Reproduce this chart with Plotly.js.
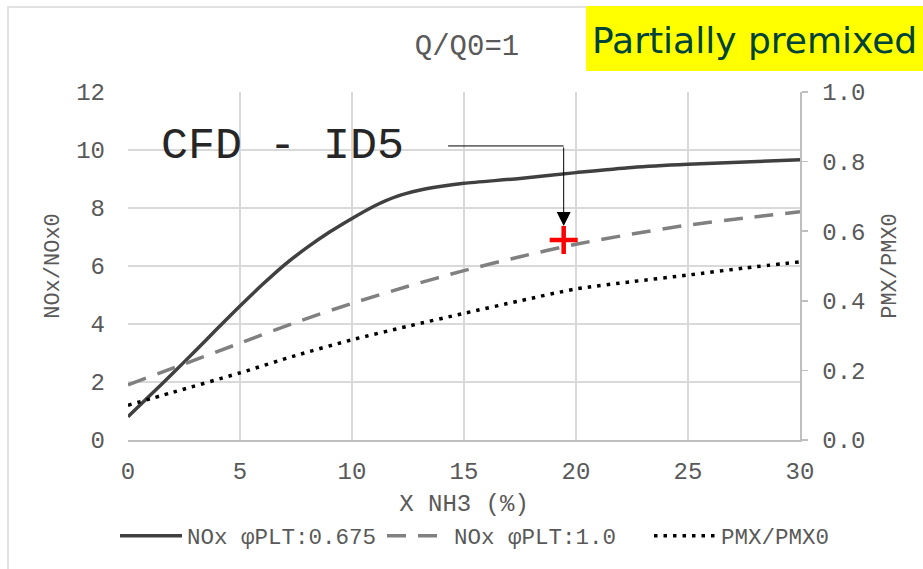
<!DOCTYPE html>
<html>
<head>
<meta charset="utf-8">
<script src="https://cdn.plot.ly/plotly-3.0.1.min.js"></script>
<style>html,body{margin:0;padding:0;background:#fff;}#chart{width:923px;height:569px;}</style>
</head>
<body>
<div id="chart"></div>
<script>
// Data
const xSolid = [0, 1, 2, 3, 4, 5, 6, 7, 8, 9, 10, 11, 12, 13, 14, 15, 17.5, 20, 22.5, 25, 30];
const noxPhi0675 = [0.8, 1.55, 2.3, 3.07, 3.85, 4.62, 5.36, 6.05, 6.64, 7.17, 7.64, 8.07, 8.4, 8.61, 8.75, 8.85, 9.02, 9.22, 9.4, 9.51, 9.66];
const xDashed = [0, 2.5, 5, 7.5, 10, 12.5, 15, 17.5, 20, 22.5, 25, 27.5, 30];
const noxPhi10 = [1.9, 2.62, 3.34, 4.06, 4.71, 5.3, 5.84, 6.32, 6.75, 7.1, 7.41, 7.65, 7.87];
const xDotted = [0, 2, 5, 7.5, 10, 12.5, 15, 17.5, 20, 22.5, 25, 27.5, 30];
const pmxRatio = [0.10, 0.137, 0.193, 0.243, 0.288, 0.327, 0.364, 0.40, 0.434, 0.455, 0.474, 0.494, 0.512];
const cfdX = [19.45];
const cfdY = [6.9];
const seriesNames = ['NOx \u03c6PLT:0.675', 'NOx \u03c6PLT:1.0', 'PMX/PMX0'];

const mono = 'Liberation Mono, Courier New, monospace';
const txt = '#595959';
const grid = '#d9d9d9';

const traces = [
  {x: xSolid, y: noxPhi0675, name: seriesNames[0], type: 'scatter', mode: 'lines', line: {color: '#404040', width: 3.5, shape: 'spline', smoothing: 0.8}},
  {x: xDashed, y: noxPhi10, name: seriesNames[1], type: 'scatter', mode: 'lines', line: {color: '#808080', width: 3.5, dash: '19px,12px', shape: 'spline', smoothing: 0.8}},
  {x: xDotted, y: pmxRatio, name: seriesNames[2], yaxis: 'y2', type: 'scatter', mode: 'lines', line: {color: '#000000', width: 3.5, dash: '3.5px,6px', shape: 'spline', smoothing: 0.8}},
  {x: cfdX, y: cfdY, type: 'scatter', mode: 'markers', showlegend: false, marker: {symbol: 'cross-thin', size: 20, line: {color: '#ff0000', width: 4.5}}}
];

const layout = {
  width: 923, height: 569,
  margin: {l: 128, r: 123, t: 92, b: 129},
  paper_bgcolor: '#ffffff', plot_bgcolor: '#ffffff',
  font: {family: mono, color: txt, size: 22},
  showlegend: true,
  title: {text: 'Q/Q0=1', font: {family: mono, size: 29, color: txt}, x: 467/923, xref: 'container', xanchor: 'center', y: 1 - 45/569, yref: 'container', yanchor: 'middle'},
  xaxis: {
    range: [0, 30], dtick: 5, showgrid: true, gridcolor: grid, gridwidth: 1.3,
    showline: true, linecolor: '#bfbfbf', linewidth: 1.5, zeroline: false,
    ticks: '', ticklabelstandoff: 9, tickfont: {family: mono, size: 24, color: txt},
    title: {text: 'X NH3 (%)', font: {family: mono, size: 24, color: txt}, standoff: 9}
  },
  yaxis: {
    range: [0, 12], dtick: 2, showgrid: true, gridcolor: grid, gridwidth: 1.3,
    showline: false, zeroline: false, ticks: '', ticklabelstandoff: 22,
    tickfont: {family: mono, size: 24, color: txt},
    title: {text: 'NOx/NOx0', font: {family: mono, size: 22, color: txt}, standoff: 10}
  },
  yaxis2: {
    range: [0, 1], dtick: 0.2, tickformat: '.1f', overlaying: 'y', side: 'right',
    showgrid: false, zeroline: false, showline: true, linecolor: '#bfbfbf', linewidth: 1.5,
    ticks: 'outside', ticklen: 6, tickcolor: '#bfbfbf', tickwidth: 1.5, ticklabelstandoff: 10,
    tickfont: {family: mono, size: 24, color: txt},
    title: {text: 'PMX/PMX0', font: {family: mono, size: 22, color: txt}, standoff: 16}
  },
  legend: {
    orientation: 'h', x: (115 - 128) / 672, xanchor: 'left', y: (440 - 536) / 348, yanchor: 'middle',
    font: {family: mono, size: 22.5, color: txt}, bgcolor: 'rgba(0,0,0,0)', itemwidth: 62,
    entrywidth: 190, entrywidthmode: 'pixels'
  },
  shapes: [
    {type: 'rect', xref: 'paper', yref: 'paper', x0: (8 - 128) / 672, x1: (990 - 128) / 672, y0: (440 - 700) / 348, y1: (440 - 7) / 348, line: {color: '#d9d9d9', width: 1.5}, fillcolor: 'rgba(0,0,0,0)', layer: 'below'},
    {type: 'rect', xref: 'paper', yref: 'paper', x0: (586 - 128) / 672, x1: (925 - 128) / 672, y0: (440 - 71) / 348, y1: (440 - 6) / 348, line: {width: 0}, fillcolor: '#ffff00'},
    {type: 'line', xref: 'x', yref: 'y', x0: 14.29, x1: 19.45, y0: 10.14, y1: 10.14, line: {color: '#000000', width: 1}}
  ],
  annotations: [
    {xref: 'paper', yref: 'paper', x: (754 - 128) / 672, y: (440 - 41) / 348, xanchor: 'center', yanchor: 'middle', showarrow: false,
     text: 'Partially premixed', font: {family: 'DejaVu Sans, sans-serif', size: 36, color: '#00433a'}},
    {xref: 'x', yref: 'y', x: 6.875, y: 10.12, xanchor: 'center', yanchor: 'middle', showarrow: false,
     text: 'CFD - ID5', font: {family: mono, size: 45, color: '#262626'}},
    {xref: 'x', yref: 'y', x: 19.45, y: 7.38, axref: 'x', ayref: 'y', ax: 19.45, ay: 10.14, text: '', showarrow: true,
     arrowhead: 2, arrowsize: 2.8, arrowwidth: 1, arrowcolor: '#000000', standoff: 0, startstandoff: 0}
  ]
};

Plotly.newPlot('chart', traces, layout, {displayModeBar: false, staticPlot: true});
</script>
</body>
</html>
